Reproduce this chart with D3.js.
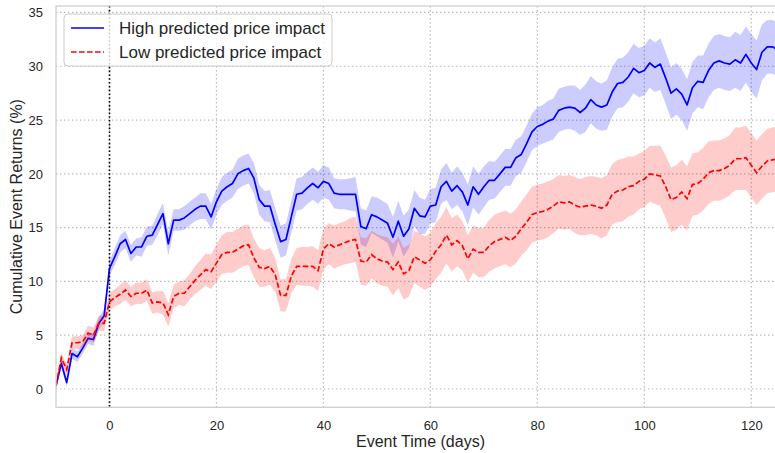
<!DOCTYPE html>
<html>
<head>
<meta charset="utf-8">
<script src="https://cdn.jsdelivr.net/npm/d3@7"></script>
<style>
  html, body { margin: 0; padding: 0; background: #fff; }
  svg { display: block; font-family: "Liberation Sans", Arial, sans-serif; }
</style>
</head>
<body>
<svg id="chart" width="775" height="453"></svg>
<script>
// Event days: -10 .. 125
const days = d3.range(-10, 126);

// Mean cumulative event returns (%) for each group
const highMean = [
  0.3, 2.4, 0.6, 3.3, 3.0, 3.8, 4.7, 4.6, 6.1, 6.8,
  11.2, 12.3, 13.5, 13.9, 12.6, 13.2, 13.2, 14.2, 14.3, 15.3,
  16.3, 13.5, 15.7, 15.7, 15.9, 16.3, 16.7, 17.0, 17.0, 16.0,
  17.4, 18.4, 18.8, 19.1, 20.0, 20.3, 20.5, 19.6, 17.6, 17.0,
  17.0, 15.3, 13.7, 13.9, 16.0, 18.1, 18.2, 18.7, 19.1, 18.7,
  19.3, 19.1, 18.2, 18.1, 18.1, 18.1, 18.1, 15.1, 14.9, 16.2,
  16.0, 15.7, 15.4, 14.1, 15.6, 14.2, 14.9, 16.8, 16.1, 16.0,
  17.0, 17.1, 18.8, 19.3, 18.4, 18.9, 18.3, 17.1, 18.8, 18.1,
  18.8, 19.4, 19.4, 20.0, 20.6, 20.6, 21.5, 21.8, 22.8, 23.9,
  24.4, 24.6, 24.9, 25.1, 25.9, 26.1, 26.2, 26.1, 25.7, 26.1,
  26.9, 26.4, 26.2, 26.4, 27.6, 28.4, 28.5, 29.0, 29.8, 29.4,
  29.6, 30.3, 29.9, 30.2, 28.9, 27.5, 27.9, 27.4, 26.4, 28.0,
  28.6, 28.5, 29.6, 30.3, 30.5, 30.3, 30.2, 30.6, 30.3, 31.1,
  30.3, 29.7, 31.3, 31.8, 31.8, 31.5
];
const lowMean = [
  0.3, 2.9, 1.8, 4.3, 4.3, 4.4, 5.2, 5.0, 6.1, 6.1,
  8.1, 8.5, 8.8, 9.2, 8.6, 8.9, 8.9, 9.2, 8.0, 8.1,
  8.0, 6.9, 8.6, 8.9, 8.9, 9.5, 10.1, 10.6, 11.1, 10.9,
  11.7, 12.5, 12.7, 12.7, 13.0, 13.3, 13.4, 12.2, 11.3, 11.2,
  11.4, 10.6, 8.7, 8.7, 10.5, 11.4, 11.4, 11.4, 11.4, 11.0,
  13.0, 13.5, 13.2, 13.4, 13.6, 13.8, 13.9, 11.9, 11.8, 12.5,
  12.1, 11.9, 11.8, 11.1, 11.8, 10.7, 11.0, 12.3, 12.0, 11.7,
  12.0, 12.8, 13.4, 14.3, 13.4, 13.8, 13.3, 12.1, 13.0, 12.7,
  12.7, 13.3, 13.7, 13.9, 14.1, 13.8, 14.2, 14.9, 15.5, 16.2,
  16.4, 16.5, 16.7, 17.0, 17.4, 17.3, 17.4, 17.1, 16.9, 17.0,
  17.1, 17.0, 16.8, 17.1, 18.1, 18.4, 18.5, 18.8, 18.9, 19.3,
  19.5, 20.0, 19.9, 19.8, 18.8, 17.6, 17.8, 18.3, 17.7, 19.0,
  19.1, 19.5, 20.1, 20.3, 20.3, 20.5, 20.8, 21.4, 21.4, 21.5,
  20.8, 20.1, 20.7, 21.2, 21.3, 21.4
];

// Half-width of the confidence band around each mean
const highBand = [
  0.3, 0.4, 0.4, 0.5, 0.5, 0.5, 0.5, 0.6, 0.6, 0.6,
  0.7, 0.8, 0.8, 0.8, 0.8, 0.8, 0.9, 0.9, 0.9, 1.0,
  1.0, 1.1, 1.0, 1.0, 1.1, 1.1, 1.1, 1.2, 1.2, 1.2,
  1.2, 1.3, 1.3, 1.3, 1.4, 1.4, 1.4, 1.4, 1.4, 1.4,
  1.5, 1.5, 1.5, 1.5, 1.5, 1.5, 1.5, 1.5, 1.5, 1.5,
  1.5, 1.5, 1.4, 1.4, 1.4, 1.5, 1.6, 1.7, 1.7, 1.7,
  1.8, 1.8, 1.8, 1.9, 1.9, 1.9, 1.8, 1.7, 1.7, 1.6,
  1.6, 1.6, 1.6, 1.7, 1.7, 1.8, 1.8, 1.9, 1.9, 1.9,
  1.9, 1.8, 1.7, 1.7, 1.7, 1.7, 1.7, 1.7, 1.7, 1.7,
  1.8, 1.8, 1.9, 1.9, 2.0, 2.0, 2.0, 2.1, 2.1, 2.2,
  2.2, 2.2, 2.2, 2.3, 2.3, 2.3, 2.3, 2.3, 2.3, 2.3,
  2.3, 2.3, 2.3, 2.4, 2.4, 2.4, 2.4, 2.4, 2.4, 2.4,
  2.4, 2.5, 2.5, 2.5, 2.5, 2.5, 2.5, 2.6, 2.6, 2.6,
  2.7, 2.7, 2.6, 2.5, 2.5, 2.5
];
const lowBand = [
  0.3, 0.5, 0.5, 0.6, 0.6, 0.6, 0.7, 0.7, 0.7, 0.7,
  0.8, 0.8, 0.9, 0.9, 0.9, 1.0, 1.0, 1.0, 1.0, 1.0,
  1.1, 1.1, 1.1, 1.1, 1.2, 1.2, 1.3, 1.4, 1.5, 1.6,
  1.7, 1.8, 1.9, 1.9, 1.9, 1.9, 1.9, 1.8, 1.8, 1.7,
  1.7, 1.6, 1.5, 1.5, 1.6, 1.7, 1.8, 1.8, 1.9, 1.9,
  1.9, 1.9, 2.0, 2.0, 2.0, 2.1, 2.1, 2.2, 2.2, 2.2,
  2.3, 2.3, 2.3, 2.4, 2.4, 2.4, 2.4, 2.4, 2.5, 2.5,
  2.5, 2.6, 2.6, 2.6, 2.5, 2.4, 2.3, 2.2, 2.2, 2.3,
  2.3, 2.4, 2.5, 2.5, 2.5, 2.5, 2.5, 2.5, 2.6, 2.6,
  2.6, 2.6, 2.6, 2.5, 2.5, 2.5, 2.5, 2.6, 2.6, 2.7,
  2.7, 2.7, 2.8, 2.8, 2.8, 2.9, 2.9, 2.8, 2.7, 2.6,
  2.6, 2.6, 2.7, 2.8, 2.9, 3.0, 3.0, 3.0, 3.0, 2.9,
  2.9, 2.9, 2.9, 2.8, 2.8, 2.8, 2.8, 2.9, 2.9, 3.0,
  3.0, 3.0, 3.0, 3.0, 3.0, 3.0
];

const xTicks = [0, 20, 40, 60, 80, 100, 120];
const yTicks = [0, 5, 10, 15, 20, 25, 30, 35];
const seriesNames = ["High predicted price impact", "Low predicted price impact"];

const svg = d3.select("#chart");
const plot = { left: 56, right: 778, top: 6, bottom: 407.3 };

const x = d3.scaleLinear().domain([-10, 125]).range([plot.left, plot.right]);
const y = d3.scaleLinear().domain([-1.7, 35.6]).range([plot.bottom, plot.top]);

svg.append("defs").append("clipPath").attr("id", "plotClip")
  .append("rect")
  .attr("x", plot.left).attr("y", plot.top)
  .attr("width", plot.right - plot.left).attr("height", plot.bottom - plot.top);

// Dotted grid
const grid = svg.append("g").attr("class", "grid");
grid.selectAll("line.gx").data(xTicks).join("line")
  .attr("x1", d => x(d)).attr("x2", d => x(d))
  .attr("y1", plot.top).attr("y2", plot.bottom)
  .attr("stroke", "#b8b8b8").attr("stroke-width", 1.2).attr("stroke-dasharray", "1.4,2.6");
grid.selectAll("line.gy").data(yTicks).join("line")
  .attr("x1", plot.left).attr("x2", plot.right)
  .attr("y1", d => y(d)).attr("y2", d => y(d))
  .attr("stroke", "#b8b8b8").attr("stroke-width", 1.2).attr("stroke-dasharray", "1.4,2.6");

const rows = days.map((d, i) => ({
  day: d,
  hm: highMean[i], hb: highBand[i],
  lm: lowMean[i], lb: lowBand[i]
}));

const body = svg.append("g").attr("clip-path", "url(#plotClip)");

const areaHigh = d3.area().x(d => x(d.day)).y0(d => y(d.hm - d.hb)).y1(d => y(d.hm + d.hb));
const areaLow = d3.area().x(d => x(d.day)).y0(d => y(d.lm - d.lb)).y1(d => y(d.lm + d.lb));
const lineHigh = d3.line().x(d => x(d.day)).y(d => y(d.hm));
const lineLow = d3.line().x(d => x(d.day)).y(d => y(d.lm));

body.append("path").datum(rows).attr("d", areaHigh)
  .attr("fill", "#0000ff").attr("fill-opacity", 0.2);
body.append("path").datum(rows).attr("d", lineHigh)
  .attr("fill", "none").attr("stroke", "#0000ff").attr("stroke-width", 1.7)
  .attr("stroke-linejoin", "round");
body.append("path").datum(rows).attr("d", areaLow)
  .attr("fill", "#ff0000").attr("fill-opacity", 0.2);
body.append("path").datum(rows).attr("d", lineLow)
  .attr("fill", "none").attr("stroke", "#ff0000").attr("stroke-width", 1.7)
  .attr("stroke-dasharray", "5.5,2.5");

// Event date marker
body.append("line")
  .attr("x1", x(0)).attr("x2", x(0)).attr("y1", plot.top).attr("y2", plot.bottom)
  .attr("stroke", "#000").attr("stroke-width", 1.6).attr("stroke-dasharray", "1.6,2.2");

// Frame
svg.append("rect")
  .attr("x", plot.left).attr("y", plot.top)
  .attr("width", plot.right - plot.left).attr("height", plot.bottom - plot.top)
  .attr("fill", "none").attr("stroke", "#cccccc").attr("stroke-width", 1.25);

// Axes (labels only, no tick marks)
const xAxis = d3.axisBottom(x).tickValues(xTicks).tickSize(0).tickPadding(13);
const yAxis = d3.axisLeft(y).tickValues(yTicks).tickSize(0).tickPadding(13);

const gx = svg.append("g").attr("transform", `translate(0,${plot.bottom})`).call(xAxis);
const gy = svg.append("g").attr("transform", `translate(${plot.left},0)`).call(yAxis);
[gx, gy].forEach(g => {
  g.select(".domain").remove();
  g.selectAll("text")
    .attr("fill", "#262626")
    .style("font-size", "13px")
    .style("font-family", "'Liberation Sans', Arial, sans-serif");
});

svg.append("text")
  .attr("x", (plot.left + 775) / 2 + 5).attr("y", 447)
  .attr("text-anchor", "middle")
  .attr("fill", "#262626").style("font-size", "16px")
  .text("Event Time (days)");

svg.append("text")
  .attr("transform", `translate(22,${(plot.top + plot.bottom) / 2}) rotate(-90)`)
  .attr("text-anchor", "middle")
  .attr("fill", "#262626").style("font-size", "16px")
  .text("Cumulative Event Returns (%)");

// Legend
const legend = svg.append("g").attr("transform", "translate(64,14)");
legend.append("rect")
  .attr("x", 0).attr("y", 0).attr("width", 268).attr("height", 52)
  .attr("rx", 4).attr("ry", 4)
  .attr("fill", "#ffffff").attr("fill-opacity", 0.8)
  .attr("stroke", "#cccccc").attr("stroke-width", 1);

const legendItems = [
  { name: seriesNames[0], color: "#0000ff", dash: null },
  { name: seriesNames[1], color: "#ff0000", dash: "5.5,2.5" }
];
legendItems.forEach((item, i) => {
  const cy = 14 + i * 24;
  legend.append("line")
    .attr("x1", 7).attr("x2", 40).attr("y1", cy).attr("y2", cy)
    .attr("stroke", item.color).attr("stroke-width", 1.7)
    .attr("stroke-dasharray", item.dash);
  legend.append("text")
    .attr("x", 55).attr("y", cy).attr("dy", "0.35em")
    .attr("fill", "#262626").style("font-size", "17px")
    .text(item.name);
});
</script>
</body>
</html>
